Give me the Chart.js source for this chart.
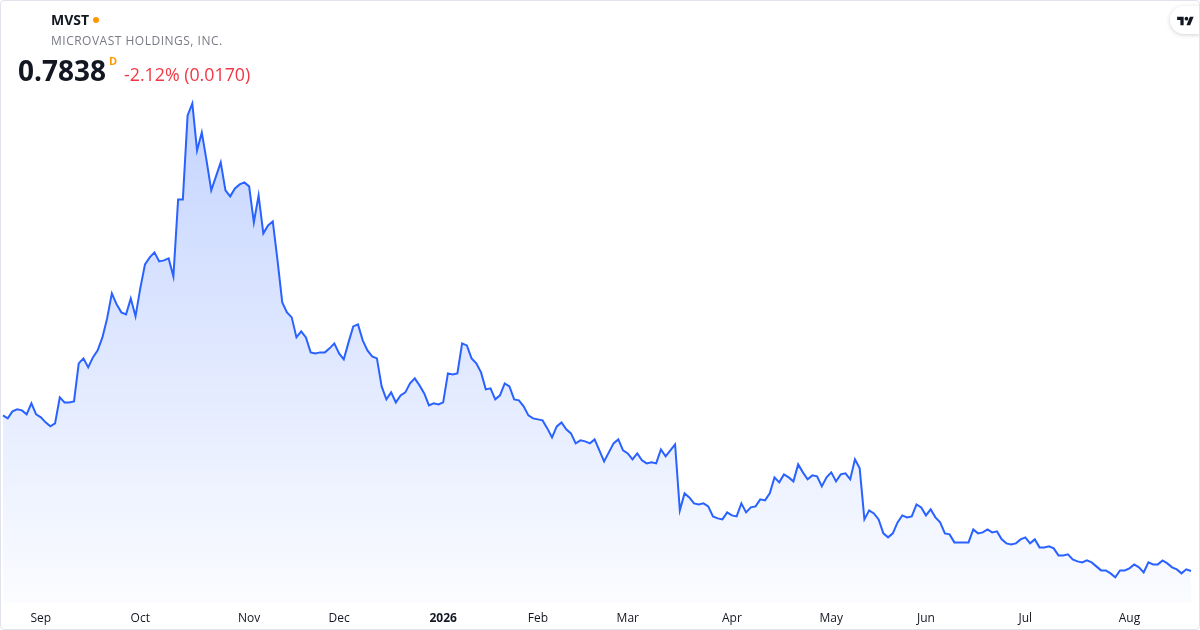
<!DOCTYPE html>
<html>
<head>
<meta charset="utf-8">
<script src="https://cdn.jsdelivr.net/npm/chart.js@4"></script>
<style>
  html, body { margin: 0; padding: 0; background: #fff; }
  #wrap { position: relative; width: 1200px; height: 630px; overflow: hidden; font-family: "Open Sans", "Noto Sans", sans-serif; }
  #wrap canvas { position: absolute; left: 0; top: 0; }
  #frame { position: absolute; inset: 0; border: 1px solid #e0e3eb; border-radius: 4px; pointer-events: none; }
  .sym { position: absolute; left: 51px; top: 10px; font-size: 14px; font-weight: 700; color: #131722; }
  .dot { position: absolute; left: 93px; top: 17px; width: 6px; height: 6px; border-radius: 50%; background: #ff9800; }
  .name { position: absolute; left: 51px; top: 32px; font-size: 12px; color: #787b86; letter-spacing: 0.5px; }
  .price { position: absolute; left: 18px; top: 51px; font-size: 28px; font-weight: 700; color: #131722; }
  .flag { position: absolute; left: 109px; top: 53px; font-size: 11px; font-weight: 700; color: #ff9800; }
  .chg { position: absolute; left: 124px; top: 62px; font-size: 17.8px; color: #f23645; }
  .logo { position: absolute; right: 0; top: 6px; width: 30px; height: 28px; background: #fff; border-radius: 14px 0 0 14px; box-shadow: 0 1px 4px rgba(0,0,0,0.18); }
  .logo svg { position: absolute; left: 7px; top: 9px; }
</style>
</head>
<body>
<div id="wrap">
  <canvas id="chart"></canvas>
  <div class="sym">MVST</div>
  <div class="dot"></div>
  <div class="name">MICROVAST HOLDINGS, INC.</div>
  <div class="price">0.7838</div>
  <div class="flag">D</div>
  <div class="chg">-2.12% (0.0170)</div>
  <div class="logo"><svg width="17" height="13" viewBox="0 0 36 28"><path fill="#131722" d="M14 22H7V11H0V4h14v18zM28 22h-8l7.5-18h8L28 22z"/><circle fill="#131722" cx="20" cy="8" r="4"/></svg></div>
  <div id="frame"></div>
</div>
<script>
// daily closes, one per trading day from 2025-08-20
const prices = [
  2.34,2.31,2.38,2.40,2.39,2.35,2.46,2.35,2.32,2.27,2.23,2.26,2.52,2.47,2.47,2.48,
  2.86,2.91,2.82,2.92,2.99,3.12,3.31,3.56,3.45,3.37,3.35,3.51,3.33,3.61,3.85,3.92,
  3.97,3.88,3.89,3.91,3.73,4.50,4.50,5.34,5.46,4.99,5.17,4.89,4.59,4.73,4.87,4.59,
  4.53,4.61,4.65,4.67,4.63,4.27,4.54,4.16,4.24,4.28,3.89,3.47,3.37,3.32,3.12,3.18,
  3.12,2.97,2.96,2.97,2.97,3.01,3.06,2.96,2.90,3.07,3.23,3.25,3.09,2.99,2.93,2.91,
  2.63,2.50,2.57,2.47,2.54,2.57,2.66,2.71,2.64,2.56,2.44,2.46,2.45,2.47,2.76,2.75,
  2.76,3.06,3.04,2.91,2.86,2.77,2.60,2.61,2.50,2.54,2.66,2.63,2.50,2.49,2.43,2.34,
  2.31,2.30,2.29,2.21,2.12,2.23,2.27,2.20,2.16,2.06,2.09,2.08,2.06,2.10,1.99,1.88,
  1.97,2.06,2.10,1.99,1.96,1.90,1.96,1.89,1.86,1.87,1.86,2.00,1.93,1.99,2.05,1.39,
  1.56,1.52,1.46,1.45,1.46,1.43,1.33,1.31,1.30,1.37,1.34,1.33,1.46,1.37,1.42,1.43,
  1.50,1.49,1.56,1.72,1.67,1.75,1.72,1.68,1.85,1.77,1.70,1.74,1.73,1.63,1.72,1.77,
  1.68,1.75,1.76,1.70,1.90,1.81,1.30,1.39,1.36,1.30,1.16,1.12,1.16,1.27,1.34,1.32,
  1.33,1.45,1.42,1.34,1.40,1.32,1.27,1.16,1.15,1.07,1.07,1.07,1.07,1.20,1.16,1.17,
  1.20,1.17,1.18,1.10,1.06,1.05,1.06,1.10,1.12,1.06,1.10,1.02,1.02,1.03,1.01,0.94,
  0.94,0.95,0.90,0.88,0.87,0.89,0.87,0.83,0.79,0.79,0.76,0.72,0.79,0.79,0.81,0.85,
  0.82,0.77,0.87,0.85,0.85,0.89,0.86,0.82,0.80,0.76,0.8008,0.7838
];
const startDate = "2025-08-20";
const holidays = ["2025-09-01","2025-11-27","2025-12-25","2026-01-01","2026-01-19",
  "2026-02-16","2026-04-03","2026-05-25","2026-06-19","2026-07-03"];
const monthNames = ["Jan","Feb","Mar","Apr","May","Jun","Jul","Aug","Sep","Oct","Nov","Dec"];

// trading calendar
let dates = [];
let d = new Date(startDate + "T00:00:00Z");
while (dates.length < prices.length) {
  const s = d.toISOString().slice(0, 10);
  const wd = d.getUTCDay();
  if (wd !== 0 && wd !== 6 && !holidays.includes(s)) dates.push(s);
  d.setUTCDate(d.getUTCDate() + 1);
}

function monthLabel(i){
  if (i === 0) return null;
  const m = +dates[i].slice(5, 7), pm = +dates[i-1].slice(5, 7);
  if (m === pm) return null;
  return m === 1 ? dates[i].slice(0, 4) : monthNames[m-1];
}

const ctx = document.getElementById("chart");
new Chart(ctx, {
  type: "line",
  data: {
    labels: dates,
    datasets: [{
      data: prices,
      borderColor: "#2962ff",
      borderWidth: 2,
      pointRadius: 0,
      tension: 0,
      fill: "start",
      backgroundColor: (c) => {
        const a = c.chart.chartArea;
        if (!a) return "rgba(41,98,255,0.1)";
        const g = c.chart.ctx.createLinearGradient(0, a.top, 0, a.bottom);
        g.addColorStop(0, "rgba(41,98,255,0.28)");
        g.addColorStop(1, "rgba(41,98,255,0.02)");
        return g;
      }
    }]
  },
  options: {
    responsive: true,
    maintainAspectRatio: false,
    animation: false,
    layout: { padding: { top: 90, left: 3, right: 9, bottom: 0 } },
    plugins: { legend: { display: false }, tooltip: { enabled: false } },
    scales: {
      y: { display: false, min: 0.4638, max: 5.5938 },
      x: {
        offset: false,
        border: { display: false },
        grid: { display: false, drawTicks: false },
        afterFit: (s) => { s.height = 27; },
        ticks: {
          autoSkip: false,
          maxRotation: 0,
          padding: 8,
          color: "#131722",
          font: (c) => ({ family: "'Open Sans', 'Noto Sans', sans-serif", size: 12,
            weight: c.tick && c.tick.label === "2026" ? "bold" : "normal" }),
          callback: (v, i) => monthLabel(i)
        }
      }
    }
  }
});
</script>
</body>
</html>
